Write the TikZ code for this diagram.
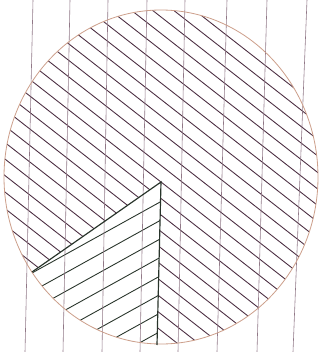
\documentclass[tikz,border=0pt]{standalone}
\usepackage{tikz}

\definecolor{rulecol}{RGB}{145,120,135}
\definecolor{rimcol}{RGB}{205,160,140}
\definecolor{hatchcol}{RGB}{75,45,65}
\definecolor{piececol}{RGB}{40,52,42}

\tikzset{
  paperline/.style={rulecol, line width=0.5pt},
  rim/.style={rimcol, line width=0.7pt},
  hatch/.style={hatchcol, line width=0.75pt},
  piecehatch/.style={piececol, line width=0.75pt},
  pieceedge/.style={piececol, line width=1pt}
}

\begin{document}
\begin{tikzpicture}[x=0.03cm, y=-0.03cm]
    \useasboundingbox (0,0) rectangle (326,352);
    \def\ellipsepath{(161,177) ellipse [x radius=157, y radius=167]}

    \coordinate (C) at (161,182);   % corner of the piece
    \coordinate (L) at (32,272);    % piece edge meets the rim on the left
    \coordinate (B) at (157,345);   % piece edge meets the rim at the bottom

    % hatching of the circle
    \begin{scope}
        \clip \ellipsepath;
        \foreach \k in {-16,...,16}
            \draw[hatch] ({161-0.616*13*\k-0.788*400},{182+0.788*13*\k-0.616*400})
                      -- ({161-0.616*13*\k+0.788*400},{182+0.788*13*\k+0.616*400});
    \end{scope}

    % the piece, hatched the other way
    \begin{scope}
        \clip \ellipsepath;
        \clip (C) -- (L) -- (-100,420) -- (B |- 0,420) -- (B) -- cycle;
        \fill[white] (-10,150) rectangle (200,400);
        \foreach \k in {1,...,12}
            \draw[piecehatch] ({161-0.875*300},{183+18.5*\k+0.485*300})
                           -- ({161+0.875*100},{183+18.5*\k-0.485*100});
    \end{scope}

    % paper lines
    \draw[paperline] (33,0) -- (25,352);
    \draw[paperline] (70,0) -- (63,352);
    \draw[paperline] (108,0) -- (102,352);
    \draw[paperline] (147,0) -- (140,352);
    \draw[paperline] (185,0) -- (178,352);
    \draw[paperline] (227,0) -- (217,352);
    \draw[paperline] (267,0) -- (257,352);
    \draw[paperline] (307,0) -- (293,352);

    % rim and piece edges
    \draw[rim] \ellipsepath;
    \draw[pieceedge] (L) -- (C) -- (B);

\end{tikzpicture}
\end{document}
